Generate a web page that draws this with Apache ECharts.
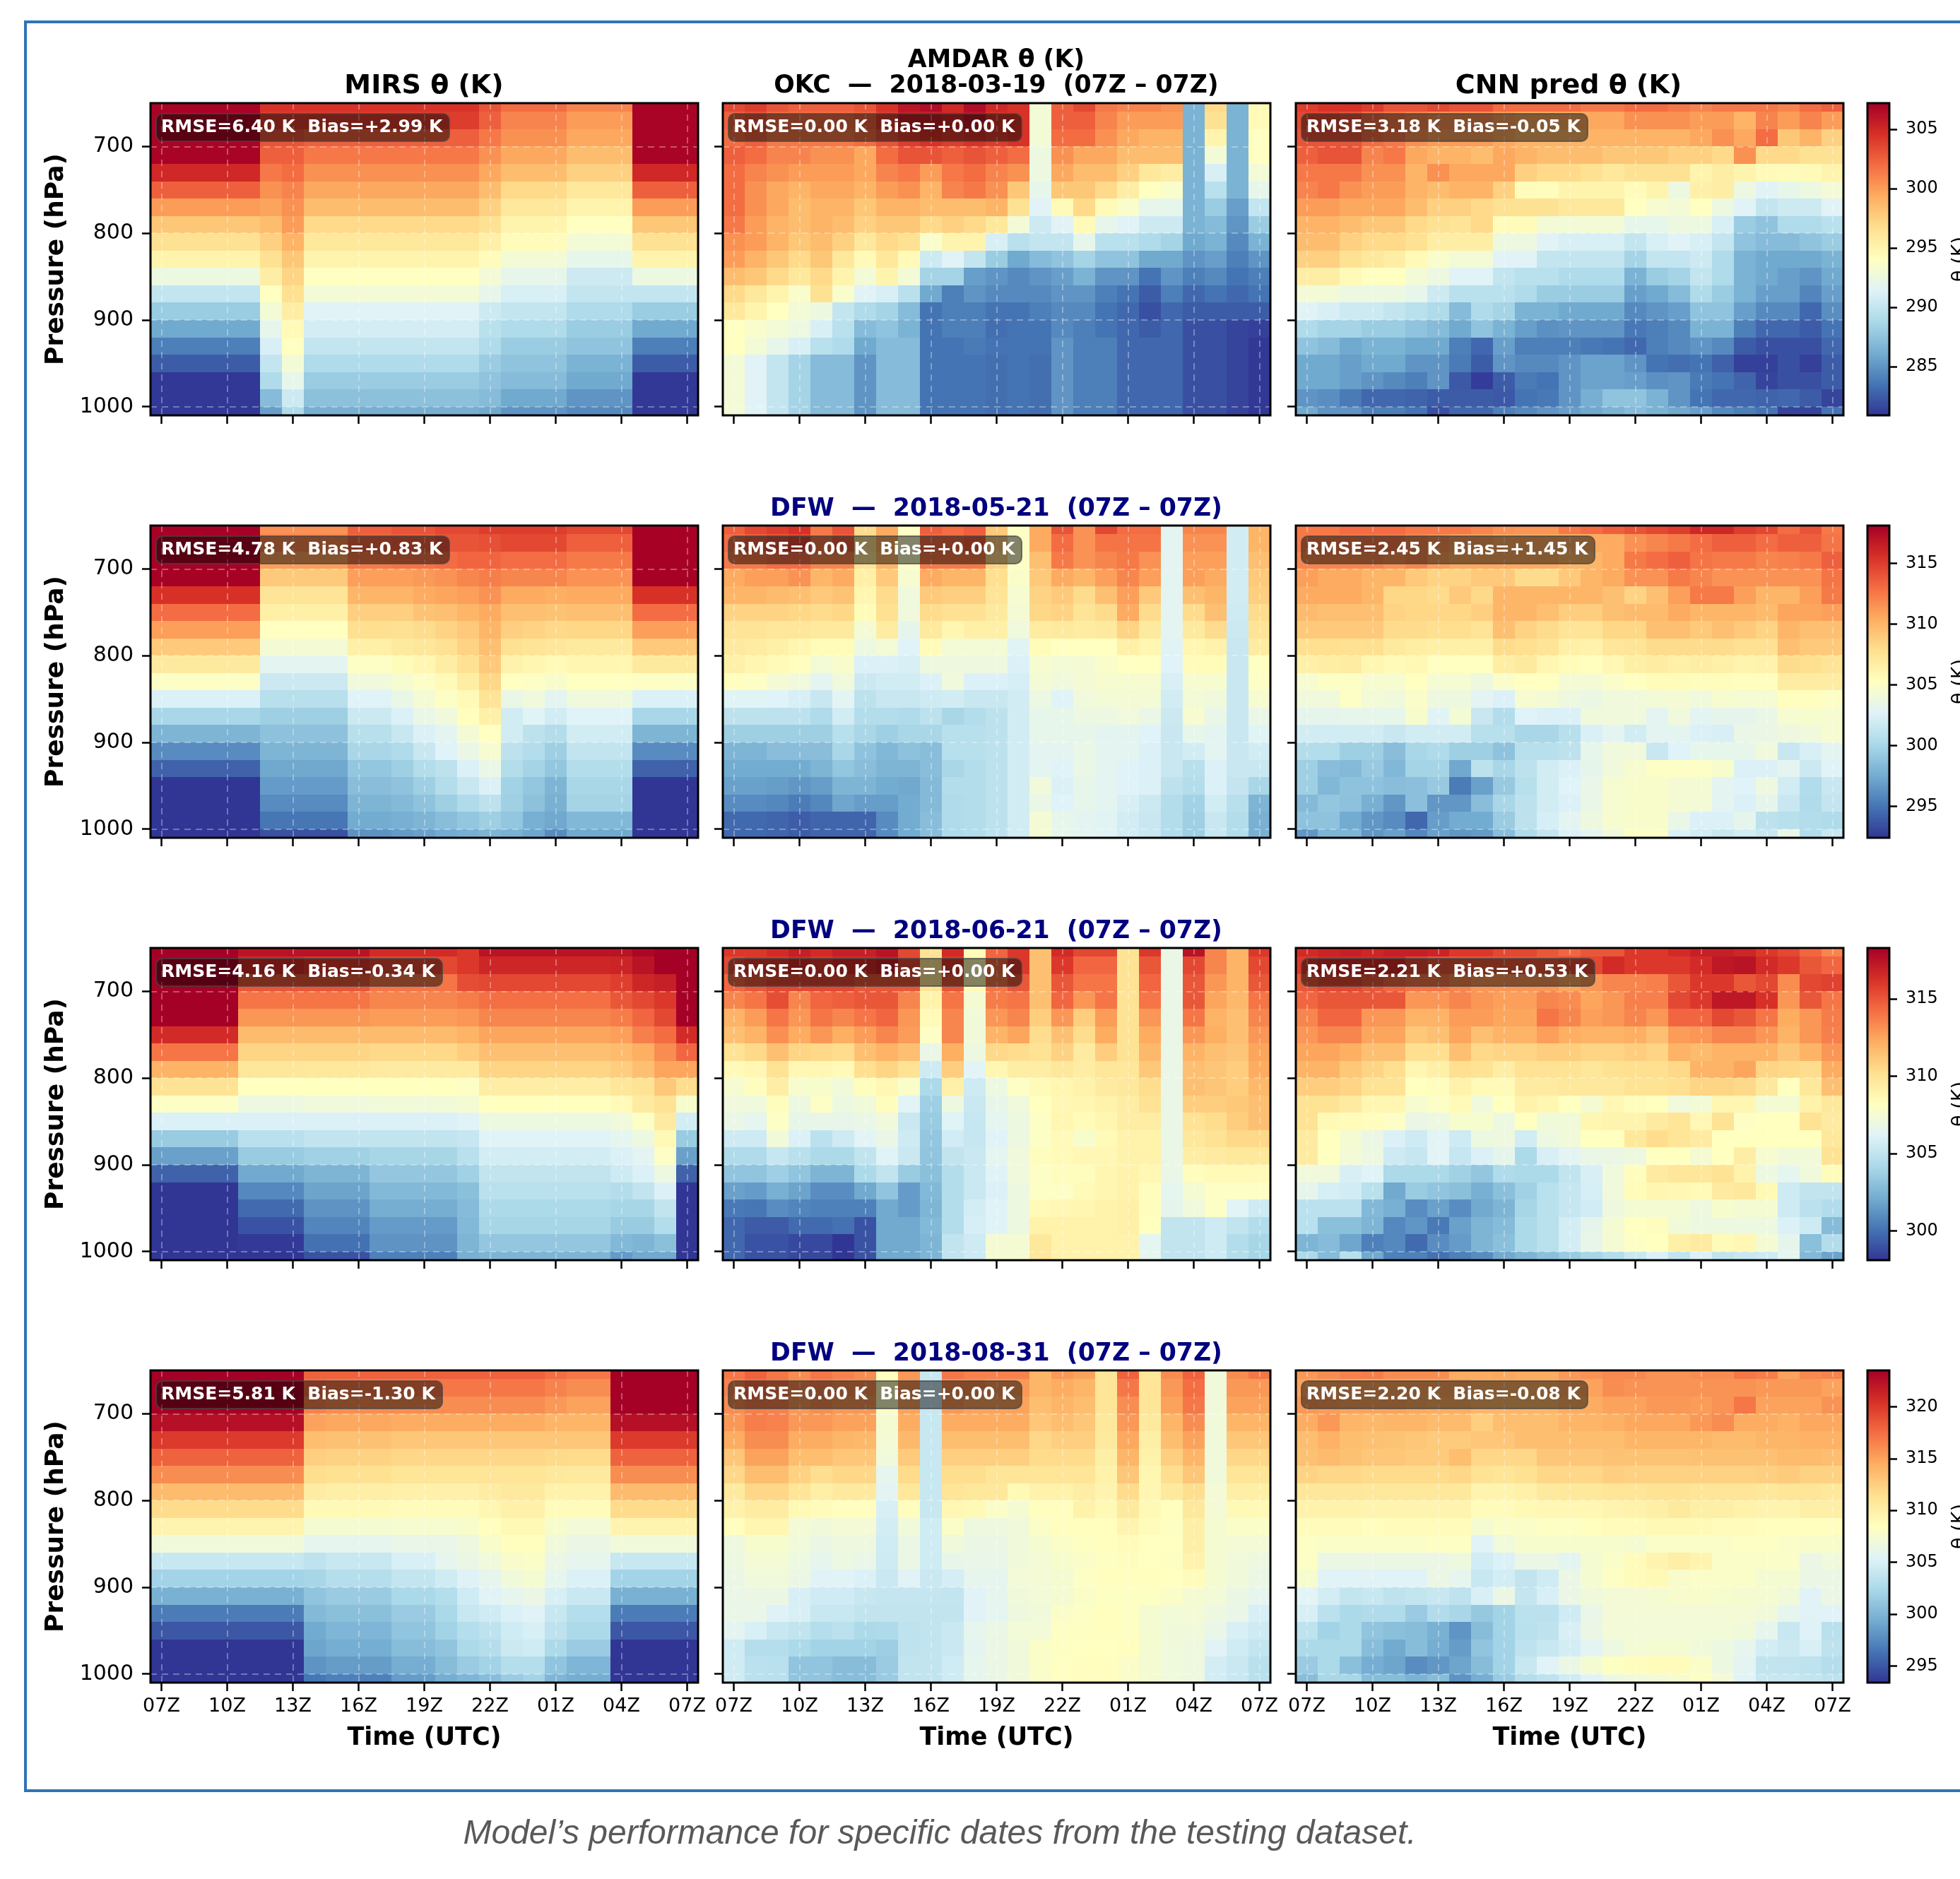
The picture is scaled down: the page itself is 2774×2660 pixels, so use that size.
<!DOCTYPE html>
<html><head><meta charset="utf-8">
<style>html,body{margin:0;padding:0;background:#fff}#c{width:2774px;height:2660px}</style>
<script src="https://cdn.jsdelivr.net/npm/echarts@6/dist/echarts.min.js"></script>
</head><body><div id="c"></div>
<script>
const levels=[650,670,690,710,730,750,770,790,810,830,850,870,890,910,930,950,970,990,1010];
const tickHours=[0,3,6,9,12,15,18,21,24];
const timeLabels=['07Z','10Z','13Z','16Z','19Z','22Z','01Z','04Z','07Z'];
const pressureTicks=[700,800,900,1000];
const cbarTicks=[[285,290,295,300,305],[295,300,305,310,315],[300,305,310,315],[295,300,305,310,315,320]];
const cbarRange=[[280.9,307.2],[292.4,318.1],[298.1,318.3],[293.4,323.5]];
const cmap=['#313695','#4575b4','#74add1','#abd9e9','#e0f3f8','#ffffbf','#fee090','#fdae61','#f46d43','#d73027','#a50026'];
const rowTitles=['OKC  —  2018-03-19  (07Z – 07Z)','DFW  —  2018-05-21  (07Z – 07Z)','DFW  —  2018-06-21  (07Z – 07Z)','DFW  —  2018-08-31  (07Z – 07Z)'];
const scores=[['RMSE=6.40 K  Bias=+2.99 K','RMSE=0.00 K  Bias=+0.00 K','RMSE=3.18 K  Bias=-0.05 K'],['RMSE=4.78 K  Bias=+0.83 K','RMSE=0.00 K  Bias=+0.00 K','RMSE=2.45 K  Bias=+1.45 K'],['RMSE=4.16 K  Bias=-0.34 K','RMSE=0.00 K  Bias=+0.00 K','RMSE=2.21 K  Bias=+0.53 K'],['RMSE=5.81 K  Bias=-1.30 K','RMSE=0.00 K  Bias=+0.00 K','RMSE=2.20 K  Bias=-0.08 K']];

// MIRS panels: runs of columns sharing one profile (span, then 19 levels)
const mirs1=[
[5,307,307,307,307,305,302.5,300,298,296.5,295,292.5,290,288,286,284,282.5,281,281,281],
[1,304.5,304,303,302.5,301.5,300.5,299.7,298.5,297.5,296.5,295.5,294,293,292,291,290,289,287,285.5],
[1,304.5,304,303,302.5,302,301,300.5,300,299,298,297.3,296.6,295.5,294.5,294,293,292,290.5,289],
[8,304.5,304,302.5,301.5,300.5,299.5,298.5,297,296,295,294,293,291.5,290.8,290,289,288,287.3,286.3],
[1,303,302.5,301.5,300.5,299.5,298.5,297.5,296.5,295.3,294.3,293,292,290.5,289.5,289,288,287.5,287,286],
[3,302,301,300.5,299.5,298.5,297,296,295,294.3,293,292,291,290,289,288,287.5,287,286,285],
[3,301,300,299.5,298.5,297.5,296,295,294,293,292,290.5,290,289,288,287.5,286.5,286,285,284.5],
[3,307,307,307,307,305,302.5,300,298,296.5,295,292.5,290,288,286,284,282.5,281,281,281]];
const mirs2=[
[5,318,318,318,318,315.5,313,311,309,307,305,302.5,300,298,296,294.2,292.4,292.4,292.4,292.4],
[4,311.5,312,311,309,307.5,306.5,305.2,304.3,303,301.7,300.7,299.5,298.7,298,297.3,296.7,296,295,293.5],
[2,313.5,313.3,312.5,311,310,308.7,307.8,306.5,305,304,302.7,301.7,300.7,300,299,298.5,298,297.5,296.3],
[1,314,313.5,312.7,311,310,308.7,307.7,307,305.5,304.5,303.5,302.5,301.5,300.3,299.5,298.8,298.3,297.7,296.7],
[1,314,313.5,312.7,311.2,310.5,309.3,308,307.3,306,305,304.3,303.5,302.5,301.5,300.5,299.5,298.8,298,297],
[1,314.5,314,313,311.5,310.7,309.5,308.5,307.7,306.7,305.7,305,304,303,302.7,301,300.5,299.5,298.5,297.5],
[1,314.5,314,313.3,312,311,310,309,308.5,307.7,306.7,305.7,305.3,304.3,303.5,302.5,301.5,300.3,299,297.7],
[1,315,314.2,313.3,312.3,311.5,310.5,310,309.5,309,308.3,307.5,306.5,305.2,304.5,303.5,302.5,301,299.5,298],
[1,315,314.5,313,312,310.5,309.5,308.7,307.7,306.3,305.2,303.5,302,302,301,300.5,299.7,299.6,299,297.8],
[1,315,314.5,313,312,310.5,309.5,308.5,307.5,306,305,304,302.8,301,300.5,299.8,299,298.7,297.7,297.2],
[1,315,314.5,313,312,310.3,309.3,308.2,307.3,305.7,304.7,303,302,300.5,299.5,299,298,297.8,297.3,296],
[3,314.5,313.5,312.5,311.5,310.5,309.5,308.3,307,306,305.2,304,302.7,302,301.2,300.5,300,299.8,298.2,297.4],
[3,318,318,318,318,315.5,313,311,309,307,305,302.5,300,298,296,294.2,292.4,292.4,292.4,292.4]];
const mirs3=[
[4,318.3,318.3,318.3,318.3,318.3,316.5,314,312,310,308,306,303.5,301.7,299.5,298,298,298,298,298],
[3,317.5,316.5,315,314,313,311.7,310.7,309.8,308.2,307,306,304.7,303.5,302,300.8,299.8,299,298.2,298],
[3,317.5,316,315,314,313,311.7,310.7,309.7,308.2,307.2,306,305,303.8,302.5,301.8,301.2,300.7,300,299],
[4,316.5,315.5,314,313.5,312.8,311.7,310.5,309.5,308.2,307.3,306,305,304,303.3,302.7,302.2,301.5,301.2,300.5],
[1,316,316,315.3,313.8,313,312,311,309.5,308,307.5,306.2,305.2,304.7,303.8,303,302.8,302.7,302.5,302.3],
[6,317.5,316.7,315.5,314.2,313.5,312.5,311.5,310.7,309.3,308.2,307,306.2,305.7,305,304.7,304.2,304,303.3,302.5],
[1,317.5,316.8,315.8,315,313.8,312.7,311.7,311,309.8,308.5,307.2,306.5,306,305.5,304.5,304,303.5,302.7,301.5],
[1,318,317.5,316.7,315.5,314.5,313.7,312.2,311.5,310,309.5,308,307,306.4,306,305,304,303.5,302.5,302],
[1,318.3,318.3,317,316,315.5,314.3,313.3,312.5,311.2,310,309.5,308.6,308,307,306,305,304.5,303,302],
[1,318.3,318.3,318.3,318.3,318.3,316.5,314.5,312.5,310.3,307.7,305.7,303.5,301.7,299.5,298,298,298,298,298]];
const mirs4=[
[7,323.5,323.5,323.5,322.5,320,318,316,313.7,311.7,309.5,307,304,302,299.7,296.8,295,293.4,293.4,293.4],
[1,318,317.5,316.5,315,313.5,312.5,311.5,310.3,309,307.5,306,303.5,302.2,301,300.3,299.3,299,298,296.5],
[3,318,317,316,314.7,313.3,312.3,311.3,310,309,307.5,306,304,303,301.5,300.7,300,299.5,298.5,297],
[2,318,317,316,314.5,313,312,311,309.8,308.7,307.6,306.3,305,303.8,302.4,301.5,301,300.5,299.5,298.5],
[1,318,317,316,314.5,313,312,311,309.8,308.7,307.6,306.3,306,304.5,303,302.4,302,301,300.5,299.5],
[1,318,317,316,314.5,313,312,311,309.8,308.7,307.8,306.8,306.5,305.3,304.5,304,303,302.5,301.5,300],
[1,318,317,316,314.5,313,312,311,310.3,309.3,308.5,307.8,307,306,305.5,304.5,303.5,303,302,300.5],
[1,318,317,316,314.5,313,312,311,310.5,309.8,309,308.5,307.8,307,306,305.2,304.5,304.3,303,301.5],
[1,318,317,316,314.5,313,312,311,310.5,309.8,309,308.5,308,307.5,306.5,305.5,305,304.5,303,302],
[1,317.5,316.5,315.5,314,313,311.8,310.7,309.7,308.8,307.7,307,306.5,306,305,304,303.5,302.5,301,300],
[2,317,316,315,314,313,311.7,310.5,309.7,308.7,307.2,306.5,306,305.2,304.2,303,302.5,301.5,300,299.5],
[4,323.5,323.5,323.5,322.5,320,318,316,313.7,311.7,309.5,307,304,302,299.7,296.8,295,293.4,293.4,293.4]];

const amdar1=[
[303.5,304,303,302.5,302.5,302.5,303,304.5,306,306.5,305,306.5,305,304.5,293,302.5,303.5,301.5,301,301,300.5,286.5,297,286.5,294.5],
[302.5,303,302,302,302,302,302.5,304,305.5,305.5,305,306,304.5,304.5,293,302.5,302.5,301,300,300,300,286.5,296.5,286.5,294.5],
[302,302.5,301.5,301.5,301.5,301.5,302,303,304,304.5,304,304.5,304,304.5,293,302,302,300.5,299.5,299,299,286.5,295,286.5,294],
[302.5,302,301,301,300.5,300.5,299.5,302,303,303,302.5,303,302.5,302,292.5,300.5,299.5,299.5,298.5,298.5,298.5,286.5,293,286.5,294],
[302,301,300.5,300,300,300,299.5,301,301.5,300,301.5,302,301,300.5,292.5,299.5,298.5,298.5,297.5,296,295.5,286.5,291,286.5,293],
[302,300.5,299.5,299,299.5,299.5,299,300,300.5,299,301,301.5,300.5,298,292,298,298,297,295.5,294,293.5,286.5,289.5,286.5,292],
[302,300.5,299.5,298.5,299,299,298,299,299,298.5,298.5,298.5,299,296.5,291.5,294.5,297,294.5,293.5,292,292,286.5,288,285.5,290],
[301.5,300,299,298.5,299,298.5,297.5,298,298,297,297.5,297,296,293,290.5,291.5,294.5,292,291.5,290.5,290.5,286.5,287,285,288],
[300.5,300,299,298,298.5,297.5,296,297,296.5,293.5,295,295,291,289.5,290,290,292,289.5,289.5,289,288.5,286,286.5,284.5,286.5],
[300,299,298,297,298,296,294.5,296,294.5,290.5,291.5,290,288,286,287,287.5,288.5,287.5,287.5,286,286,285,285.5,284,285],
[298.5,298,297,296,297,295,293,295,293,288.5,288.5,285.5,285,284.5,285,285.5,286.5,285,285,283.5,285,284,284.5,283.5,284],
[297,296,295,293.5,296.5,293.5,291.5,291,289.5,286,284,285,284.5,284.5,284.5,285,285,284,283.5,282.5,284,283,283.5,283,283.5],
[296,295,294,293,292.5,290,289,288.5,287,283.5,284,284,283.5,283.5,284,284.5,284.5,283.5,283,282,283,282.5,282.5,282.5,282.5],
[294,293.5,293,292.5,291,289.5,287,287.5,286.5,283.5,284,284,283.3,283.5,283.5,284.5,284,283.5,283,282.5,283,282,282,281.5,281.3],
[294,293,292,291,289.5,289,286,287,287,283.5,283.5,283.8,283.5,283.5,283.5,285,284,284,283,283,283,282,282,281.5,281],
[293,291.5,290,288.5,287,287,285,287,287,283.5,283.5,283.5,283.3,283.5,283.3,285,284,284,283,283,283,282,282,281.5,281],
[293,291.5,290,288.5,287,287,285,287,287,283.5,283.5,283.5,283.3,283.5,283.3,285,284,284,283,283,283,282,282,281.5,281],
[293,291.5,290,288.5,287,287,285,287,287,283.5,283.5,283.5,283.3,283.5,283.3,285,284,284,283,283,283,282,282,281.5,281],
[293,291.5,290,288.5,287,287,285,287,287,283.5,283.5,283.5,283.3,283.5,283.3,285,284,284,283,283,283,282,282,281.5,281]];
const cnn1=[
[304,304.5,304.5,304,303,303,303.5,303,303,302,302,302,302,301.5,301.5,302,302,301.5,301,301.5,301.5,301.5,301,302,302.5],
[303.5,303.5,303,302,301.5,301,300.5,300.5,300.5,300,299.5,299.5,299.5,299.5,299.5,300.5,300.5,300.5,300,300,299,301,300,301,300],
[303,303,303,302,301.5,300.5,300,300,300,299.5,299,299,299,299,299,299,299,299,299.5,300.5,299.5,302,298,299,297.5],
[302.5,303,303,301,301.5,299.5,299,299,298.5,299.5,299,298.5,298.5,298.5,298,298,298,297.5,297.5,297,300.5,297,297,296.5,296.5],
[301.5,301.5,301.5,300.5,300.5,299,300.5,299.5,299.5,299.5,297.5,297,297,296.5,296,296.5,296.5,296.5,295,295.5,295,294.5,294.3,294.5,295],
[301,301.5,300.5,300,300,299,298.5,299,299,297.5,294.3,294.2,295,295,295,294.3,295,292.5,295.3,295.5,292.5,291.5,292,292.5,293],
[300,300,299.5,299.5,299.5,298.5,297.5,297.5,297,296.5,296.5,296.5,296,296,296,294,293.3,293,294,292.5,291.5,290,290.5,290.5,291.5],
[299,299,298.5,298,298,297,296.5,296.3,297,294.3,294.3,293,293,293,293,292,292,292.5,292.5,291,288,287.5,289,289,289.5],
[298.5,298.5,297.5,297,297,296.5,295.5,295.5,295.5,292.5,292.5,291.5,291,291,291,290,291,291.5,291,290,287.5,287,287,287.5,288],
[297.5,297.5,296.5,296,295.5,294.5,293.5,293,293,291.5,291.5,290,290,290,290,288.5,290,290,290.5,289,286.5,286,286,286,286.5],
[295.5,295.5,294.5,294,294,293,292.5,291.5,291.5,290,289.5,289.5,289,289,289,286.5,288,288.5,290,289,286.5,286,285.5,285,286],
[293,293,292.5,292.5,292.5,292,290.5,289.5,289.5,289.5,289,288,288,288,288,285.5,286,287,289,288,286.5,285.5,285.5,284.3,285.5],
[291.5,291,290.5,290.5,290,289.5,289,287,289,288.5,286.5,286.5,286,286,286,284.5,285,285.5,287.5,287.5,285.5,284.5,284.5,283,284.7],
[289,288.5,288.5,288,288,287.5,287,286,287.5,286.5,285.5,284.8,285,285,285,283.7,284,284.5,286.5,286.5,284,283,283,282.5,283.5],
[287.5,287,286,286.5,286.5,286,286,284,283,285.5,284,284,284,283.7,283.5,283,284,284.5,285,284.5,282.5,282,282,282,283],
[286,286,285.5,286,286,285,285,283.8,282.5,285,284.5,284.5,285,285.7,285.7,285,283.5,283.3,283.5,282.7,281.3,281.3,282,281.3,282.5],
[286,286,285.5,285,284.5,284,285,282.3,281.2,282.5,283.8,283.5,285,285.7,285.7,285.5,284.8,285,283.8,283.5,282.8,281.5,282,282,282.5],
[285,284.7,283.8,283,283,282.8,282.5,282.5,282.5,282.3,283.5,283.7,285,286.3,287.5,287.5,286.5,285,283.5,283,283,282.8,283,282.5,281.5],
[286,285,285,284,284,283.5,282,283,283,284,284.5,285,285.5,286,286.5,287,286.5,286,285.5,284.5,284,283.5,281.5,281.5,283.5]];
const amdar2=[
[313.5,314.5,315,315.5,312.5,314,308,310.5,305,313.5,313,313.5,309,305,310.5,314,311.5,314.5,313,313,303,312,312,302,310],
[313,313.5,314,314.5,312.5,313.5,308,310.5,305,313,313,313.5,309,305,310.5,313,311.5,312.7,312.7,312.7,303,311.5,311.5,302,310],
[312.5,312.5,313,313,312,312,307.5,310,305,312.5,312.5,312.5,308.5,305,309.5,312.5,311.5,312,312.5,311.5,303,311,311,302,309.5],
[310.5,311,311,311.5,310,310.5,306.5,309,304.5,310.5,310,310,307.8,304.8,309,310.5,310,311,312,311,303,311,310.5,302,309],
[310,310,309.7,309.5,309,309.3,306,308,304,309,308.7,308.7,307.5,304.5,308.5,309,308,309.5,311,309,303,309.5,310,302,308.7],
[308.5,308.5,308.5,308.3,308,308.3,305.5,307.7,304,308,307.7,307.7,307,304.3,308.3,308.5,307.5,308,310.5,308,303,308,309.5,301.8,308],
[307.5,307.5,307.3,307.3,307,307,304.3,306.8,303.2,307,306,306.5,306.5,304,306.8,307,306.8,307,308.5,307,303,307,308,301.7,307.5],
[307,306.8,306.5,306,305.5,305.5,303.7,304.2,302.7,305.5,304.2,304.2,304.2,302.8,305.5,305.2,305.2,305.2,306.5,306,302.8,306,306.3,301.5,306.8],
[306.5,306,305.7,305.3,304.2,304.7,302.5,302.5,302.3,303.8,303.8,303.8,303.8,302.5,304.5,304.2,304.3,304.8,305.2,305.2,302.7,305.5,305.5,301.5,305.2],
[305.3,305,304.3,304,303,304,301.7,302,302,302.5,304,302.5,302.5,302.2,304.2,304,304.3,304.5,304.5,304.5,302.3,304.5,304.5,301.5,305],
[302.8,302.8,302.7,302.3,301.5,302.9,301,301.5,301.5,301.8,302,301.5,301.5,302,303.7,302.7,304,304.2,304.3,304.2,302,304.2,304,301.5,304.5],
[301,301,301,301,300.3,302,300.5,300.5,300.3,301,300,300.5,301,302,303.3,303.3,303.7,303.7,304,303.5,301.7,304.5,303.4,301.5,303.5],
[299.5,299.5,299.5,299.5,299.5,300.7,300,299.5,300,300,300.7,300.7,301,302,303.3,303.3,303.3,303,303,302.7,301.5,303.3,303,301.5,302.8],
[298,298,298.5,298.5,298.5,300,298.8,298.2,298.7,298.5,300.7,300.7,301,302,303,303,303.5,303,303,302.5,301.5,302,303,301.5,302],
[297.5,297.5,297.5,297.5,298,299,298.5,298,298,298.5,300,300.5,301,302,303,302.7,303.5,303,302.7,302.5,301.5,300.7,302.5,301.5,301.5],
[297,297,296.8,296.5,296.8,298,298,297.5,297.3,298.3,300.5,300.5,301,302,304,302.5,303.3,303,302.7,302.5,301,300.5,302.5,301.3,300],
[296,296,295.8,295.3,295.8,297.2,296.8,296.8,297.5,298.3,300.3,300.5,301,302,303.5,302.7,303.3,303,302.3,301.7,300.5,299.7,302,300.7,298],
[294.5,294.5,294.3,294,294.3,294.3,294.3,296,297.5,298.5,300.3,300.5,301,302,304.3,303.3,303,302.8,302,301.5,300.5,299.5,301.5,300.5,297.8],
[294.5,294.5,294.3,294,294.3,294.3,294.3,296,297.5,298.5,300.3,300.5,301,302,304.3,303.3,303,302.8,302,301.5,300.5,299.5,301.5,300.5,297.8]];
const cnn2=[
[312.5,312.5,313,313,313,312.5,312.5,312.5,312,311.5,311.3,311.3,312.5,313,313.5,314,314.5,315,316,316,315,314.5,313,314,312.5],
[312.5,312.5,312.5,312.5,312.5,312,311.5,311,311,310.5,310.5,310.5,310.5,310.5,310.5,311.5,312,312.5,313,313.5,313.5,313,313.5,313.5,312.7],
[312,312,312,312,311.5,312,311,310.5,310.5,310.5,310.5,310.5,310,310,310.5,312.5,313,313.5,312.7,312.5,312.5,312,312.2,312.5,313.5],
[311,310.5,310.5,310,310,309,308.5,308.5,309,309,308,308,309,310,310.5,311.5,311.5,312.5,312,311.5,311.5,311.5,311.5,311.5,312.7],
[310.5,310.5,310.5,310,308.3,308.3,308,309,308.2,310,310,310,310,310,309.5,308.5,309.5,311,312.5,312.5,311,310,310,311,312.5],
[309.7,309.5,309.5,309.5,308.5,308.3,308.3,308.3,308.7,310,310,309.5,308.8,308.8,309.5,309.7,309.7,310.5,310,310,310,309.7,310.7,310.7,311],
[309,309,309,309,308,308,307.8,307.8,307.5,309.5,308.5,308,307.5,307.5,308.3,308.3,309.5,309.5,309,309.5,309,308.5,310,309.5,309.5],
[307.8,307.8,307.7,307.8,307,306.7,306.5,306.5,306.5,308,307.8,307.5,306.5,306.3,307.3,307.5,308,308,308,308,307.7,307.7,309.5,309,309],
[306.5,306.7,306.8,306,305.7,305.8,305.2,305.2,305.2,306.7,307,306,305.5,305.3,305.9,306.6,306.8,306.5,306.7,306.5,306.2,306.3,308,307.8,307.5],
[304.5,305,305,304.5,304.5,305.2,304.4,304.4,303.8,304.8,305.2,305.2,304.3,304.3,304.8,305.2,305.5,305.5,305.4,305.4,305.3,305.3,306.8,306.8,306.8],
[304,304,305,304.2,304,304.8,303.8,303.8,302.9,302.5,304.5,304.3,303.8,303.6,304,304,304.2,304.3,304,304.5,304.4,304.4,305.3,305.3,305],
[303.2,303.2,303.3,303.3,303.3,304.6,302.8,304.2,301.5,300.5,302.7,302.5,302.5,304,304,304,303,304,302.9,303.2,303.2,303.5,304.5,304.6,304.5],
[302,302,302,302,301.5,302,302,302,300.7,300.7,300,300,300.7,302.4,303,302,303,303,302.5,302.3,303.5,303.6,303.8,304,304.5],
[300.5,300.5,299.5,299.5,298.5,300,300.3,299.5,299.5,298.8,300.7,300.7,301,303.3,304,304,301.5,302.7,303.3,303.3,303.3,304,301.5,302.3,303],
[299.5,298.5,298.3,299.2,298.2,299.8,299.8,297.3,301,300,301,302,302.5,303.2,304,304.5,305,305,305,304.6,302.5,302.5,303,301.7,302.7],
[299.5,298.2,298.8,298.8,298.5,298.6,299.2,295.3,297,299.2,300.7,302,302.7,303.4,304.5,304.7,304.7,304.3,304.3,303,302.7,303.8,302,300.4,301.5],
[298.3,299,298.7,297.7,296.5,298.6,296.5,296.5,298.5,300,301,302,302.5,303.5,304.5,304.7,304.7,304.3,304.2,303,302.5,303.2,301.5,300.3,301.3],
[298.8,298.8,297.5,296.5,296,294.4,296.8,297.5,297.5,299.3,301,302.2,303,303.8,304.5,304.7,304.7,303.5,302.5,302.5,303.2,301,300.7,300.5,300.3],
[296.5,298,298,296.5,297,295.8,297,296.5,296.7,298.5,300.3,301.3,302.5,303,304,305,305,302.5,302,301.5,302,301.5,303.5,300.5,301.5]];
const amdar3=[
[316,316,316.5,317,316.5,317,317,317.5,315.5,310,316.5,308.5,314.5,316,311.5,316.5,315.5,315.5,310,316,306.8,317.5,313.5,312,316],
[315.5,316,316,316.5,316,316.5,316.5,317,315.5,310,316,308.5,314.5,316,311.5,316,314.5,314.5,310,315,306.8,315.5,313.5,312,315.5],
[314.5,315,315.5,315.5,315.5,315.5,315,315,315,310,315,308.5,314,315,311.5,315,314,314,310,314.5,306.8,315,313,312,315],
[313.5,314,315.3,313.5,314.5,314.7,315,315,313.5,309,314,307.5,313.8,314,311.5,314.5,313,314,310,314,306.8,315,312.5,311.8,314],
[312,312.8,314,313,314,313.5,314,314.5,313,308.5,313.5,307.3,313,313.5,311,313,311,312.8,310,313,306.8,314,312,311.5,313.5],
[311.5,312,313.2,312.3,313,312.2,312.8,313.5,312.8,308,313.5,307.3,312,312.5,310.3,311.5,310.3,312.3,310,312.3,306.8,313,312.2,311.5,313],
[310,310.5,311.5,310.7,310.5,310.3,311.5,312,311.5,306.8,312.2,307,310.5,310.3,310,310.8,309.5,311,310,311.8,306.8,312,311.5,311.3,312.5],
[308.5,308.7,310,308.7,308.7,308.5,310.2,310.7,310,305.5,311,306.3,308.8,309.3,309.3,309.7,309.3,309.8,309.8,311.2,306.8,311.5,311.3,311,312.3],
[307.6,308.3,309.3,307.7,307.7,307.3,308.3,308.7,307.8,304.2,309.2,305.5,307,308,308.5,308.8,309,309.5,309.7,310.3,306.8,311.5,311.3,311,311.8],
[307.2,307.2,308.3,307,308,307,307.3,308.3,306.3,303.7,307,305.3,306.7,307.2,308.2,308.7,308.8,309,309.3,310,306.8,311,311,311.2,311.5],
[306.8,306.5,308,306.7,306.7,306.7,306.8,307.2,305.3,303.5,306.2,305.2,306.5,307,308,308.8,308.4,308.8,309.3,309.4,306.8,310,310.3,311,311.5],
[305.5,305.5,307.3,306,304.8,305.5,306.3,306.8,305.5,303.3,305.6,305.2,306.2,307,308,308.5,307.7,308.5,309,309,306.8,309.7,310,310.5,310.5],
[304.3,304.3,305.2,304.7,304.2,304.2,305,306.2,305.3,303.2,305,305.3,306.5,307.2,308.3,308.5,308.7,308.7,309,309,306.8,309.3,309.5,309.7,309.7],
[303.2,303.2,303.7,303.2,302.5,302.5,304.2,305,303.5,303,304.5,305.3,306.2,307.2,308,308.3,308.3,308.8,309,308.7,306.8,308.3,308.5,308.5,308.5],
[301.7,301.5,302.3,301.8,301,301,302,303.2,301.5,302.7,304.5,305.3,306,307,308,308,308.5,308.8,309,308.3,306.5,307.5,308,308,308],
[300.3,300.2,301,300.7,300.5,300.5,300.5,302,301.5,302.5,304.5,305.7,306.2,307,308.5,308.7,308.8,309,309.2,308.3,306.6,307.2,308,306.3,305.5],
[299.7,299.3,299.3,299.8,299.8,300,299,302,302,302.7,304.5,305.8,306.2,307,309,309,309,309,309.2,308.2,305,305,305.5,305,304.5],
[299.7,299,299,298.7,298.7,298,299,302,302,302.5,305,305.5,307.5,307.5,309.7,309,309,309,309,306.5,305,305,305.5,304.5,304],
[299.7,299,299,298.7,298.7,298,299,302,302,302.5,305,305.5,307.5,307.5,309.7,309,309,309,309,306.5,305,305,305.5,304.5,304]];
const cnn3=[
[316.5,316.8,317,316.7,317,317,316.8,316,316,315.5,315.5,315,314.5,315,315,316,316,316.5,317,317,316.7,316,315.5,314.5,313.5],
[316,316.5,316.5,316.5,316.5,315.5,315,315,315,315,315,315,315.3,315.5,316.5,316,316,316,316.5,317.3,317.5,316.5,316,315,314.5],
[315,315.5,315.5,315,314.5,314,314,313.5,313,313,313,313,312.5,313,313.5,313.5,313.7,315,316,316,315,315.5,313.3,315.5,315.7],
[314.5,315,315,315,315,313,313,313.5,313,312.7,312.7,313.5,313.3,312.5,313,313.7,313.7,315.5,316,317.3,317.3,316.3,313,315,314],
[313.5,314.5,314.5,313,313,312,312,312.8,312.8,312.5,312.5,314,313.5,312.7,313,313.5,313,314.5,314.5,315.5,315,314,312.3,313,313.8],
[313,313.5,313.5,312.5,312.5,311.2,311.5,312.5,311.5,312,312,312.7,312.2,312,312,312.2,311.5,312.8,313,313.5,313.5,313,312,313,313.7],
[312.5,312.5,312.2,311.5,311.5,310.2,310.2,311.5,310.5,310.7,310.7,311,311,310.7,310.7,311,310.7,312,311.7,312,312,312,311.3,312,313],
[312,312,311.2,310.7,310.2,308.8,309.2,310.2,310,309.3,310,310,310,309.8,310.1,310.2,310.2,310.5,312,312,312.5,310.7,310.5,310.3,312.3],
[311,311,310.7,310,310,308.2,308.3,309,308.5,308.5,309.5,309.5,309.7,309.7,309.7,310,310,310.2,310.7,310.7,310.5,309.7,308.2,309.7,311.5],
[310,310,309.5,308.8,308.8,307.6,308,308.5,307.2,308.2,309,308.8,308.2,307.5,308.7,308.3,308.2,307.2,307.4,308.8,308.8,307.5,307.5,309,309.7],
[310,308.6,308.4,308.3,308,306.9,307,307.7,307.7,307,308.2,307.3,307.3,308.8,308.9,308.9,309.5,309.9,308.7,310,308,308.2,308.2,310,309.5],
[309.5,308.2,307.5,306.9,306,305.5,306.3,305.5,307,307.1,305.6,307,307.3,308.2,308.2,309.7,310.3,309.9,309.5,308.2,308.2,308.2,308.2,308.2,309.7],
[309.5,308.2,307.4,307,305.5,305.2,306.3,305.2,306,306.6,304.2,305.9,306.4,306.8,306.9,307.1,308.2,308.2,307.5,308.2,309.3,307.6,307.3,307.3,310],
[307.2,307.2,305.9,306.2,304.2,304.2,304.2,303.8,303.3,304.3,304.2,304.2,305,305.9,307.2,308.3,309.5,309.8,309.8,310,309,307,306.5,307.2,308.4],
[306.6,305.8,305.6,304.7,302,303.5,303.2,303,302.3,303,303.8,304.7,305.2,305.8,307.2,308.4,308.8,308.7,308.5,309.5,309.7,308.6,305.5,305,305],
[304.8,304.8,304.8,302.7,302.3,301,301.7,301,302,302.5,304,304.7,305.2,305.6,307.1,307.5,307.5,307.5,307.1,307.7,307.5,307.5,305.5,304.8,304.4],
[304.7,303,303,302.5,300.8,301.3,300.3,301.7,302.5,302.8,304.2,304.7,305.7,306.6,307.5,308.2,308.3,307.3,307,307,307,307,306,305.5,302.8],
[302.5,302.8,301.9,300.5,300.8,299.8,301,301.5,302.5,303,304.2,304.7,305.7,306.7,307.5,308,308.2,309.2,309.5,308.5,308.7,307.5,306.6,303,304.5],
[304.2,302.8,304.6,302,300.5,300.5,300,300.5,301,302,302.5,303,303.5,304,304.5,305.3,306,305,306,305,305.3,305.5,306.5,302.7,301.8]];
const amdar4=[
[317,318,317,316,317,316.5,316,308.5,315.5,304,317,316.5,316.5,316.5,314,315.5,315,311,318,310.8,316,318,307,316,317],
[316.5,317.5,317,316,316.5,316,316,308.5,315.5,304,316,316,315.5,315.5,314,314.5,314,311,317,311,315.5,317.5,307,315.5,315.5],
[316,316.7,316.5,315.5,316,315.5,315.5,308,315,304,315.5,315,315,315,313.5,314,313.5,311,316,311,315,317,307,315,315],
[315.5,316.7,316.5,315.5,315.5,315,315,307.5,314.5,304,314.5,314.5,314.5,314.5,313,313.5,313,310.7,315.5,310.5,314,316,307,314,314],
[314.5,316,316,314.5,314.5,314,313.8,307.3,313.8,304,313.5,313.5,313.5,313.5,312,312.5,312.5,310.5,314.7,310,313.5,315,307,313,313],
[313,315,315,313.5,313.5,313,313,307,312.8,304,312.5,312.5,312.5,312.5,311.7,311.7,311.7,310,314,309.7,312.5,314,307,312,312],
[312,313.5,313.5,312.3,311.5,312,312,306,311.7,304,311.5,311.5,311,311,311,311,311,309.7,313,309.3,311.5,313,307,311,311],
[310.5,312,312,311,310,310.5,310.5,305.7,310.7,304,311,310.7,310.7,309,309.7,309.7,310.2,309.5,311.7,309.3,310.5,311.5,307.3,310,310],
[309.7,310.3,310.3,309,308.7,308.5,308.5,305,308.6,304,309.2,309,308,307.5,308.5,308.5,309.7,309,310.5,309,308.5,310.7,307.3,309,309],
[308.5,309.3,309.3,307.3,307,307.3,307.3,304.7,307,304.5,308,306.8,306.8,307,308,308.5,308.5,308.5,309.5,308.7,308.3,310,307.5,308,308],
[306.8,307.7,307.7,307,306.5,306.8,306.8,304.5,306.5,304.5,307,306.5,306.5,307,307.5,308,308.3,308.5,308.7,308.4,308.4,310,307.5,307.3,307.3],
[306.7,307.3,307.3,306.7,306,306.6,306.3,304.4,306.5,304.5,306.2,306.3,306.3,307,307.3,307.7,308,308.3,308.6,308.4,308.3,309.6,307.5,307,306.7],
[306.5,307,307,306.5,305.5,305.5,305.2,304.2,305.5,304.2,304.8,306,306,307.2,307.3,307.5,308.2,308.5,308.5,308.5,308.4,308.7,307.5,307,306.5],
[306.3,306.5,306.5,305,304.5,304.5,304,303.9,303.9,303.9,303.8,305.5,306,307,307.2,307.5,308,308.3,308.3,308.3,308,307.5,307.2,306.5,306],
[306.3,306.3,305.3,305,304,304,303.7,303.7,303.7,303.7,303.7,305.5,305.9,306.8,307,308,308.2,308.5,308.3,307.5,307.2,307.3,306.7,306.3,305],
[305.8,305,304,303.7,303,303.3,302.5,302.6,303.5,303.7,304.2,306,306.5,307.2,307.2,308.2,308.3,308.5,308.3,307.5,307,307,306.3,305,304.4],
[304.5,303,303,302.5,302,302,302,301.7,303.5,303.7,304.2,305.8,306.5,307,308,308.3,308.4,308.4,308.5,307.5,307,306.8,305.5,304.5,303.8],
[304.5,303.3,303.2,301,301,300.5,300.5,301.5,303.7,303.7,304.5,306,306.5,307,308,308.4,308.5,308.5,308,307.5,306.9,306.8,304.7,304.2,303.2],
[304.5,303.3,303.2,301,301,300.5,300.5,301.5,303.7,303.7,304.5,306,306.5,307,308,308.4,308.5,308.5,308,307.5,306.9,306.8,304.7,304.2,303.2]];
const cnn4=[
[315.5,316,316.5,316.7,316,316,316,314.5,314.5,314.7,314.5,314.5,315.5,315.7,316.2,316.2,315.7,315.7,316,316,317,316.7,315,316.2,316.5],
[315,315,315,315,315,315,315,315,314.5,314.5,314.5,314.5,315,315,316,315.7,315.7,315.7,315.7,315.7,315.7,315.5,315.5,315.5,315],
[315.5,315.3,315,315,315,314.7,314.5,314.5,314,314,314,314,314.5,314.5,315,315,315.5,315.5,315.3,315.7,317,315,315,315,315.7],
[314.5,315.5,314,313.8,314,314,313.7,313.7,312.5,313.5,313.5,313.5,314,314,314.3,314.7,314.7,314.7,315.5,316,314.5,314.5,314.2,314.7,314.7],
[313.5,314.2,313.5,313.3,313.2,313,312.7,312.7,313,313,313.5,313.5,313.5,313.5,313.5,314,314,314,314,313.7,313.7,314,314,314.2,314.2],
[313.3,313.7,313.3,313,313,312.7,312.7,313.5,312,312,312,313,313,313,313.2,313.2,313.2,313.2,313.3,313.3,313.3,313.3,313.7,313.7,313.5],
[312.2,312,312,311.7,311.7,311.7,311.7,312,311.2,311,311.3,312,312,312,312.5,312.3,312.3,312.3,312.3,312.3,312.3,312.5,312.7,312.3,312.3],
[310.8,310.8,310.8,310.7,310.7,310.7,310.7,310.7,309.5,309.5,309.8,310.5,310.7,310.7,311,311,311.2,311.2,311,311,311,310.7,311,311,310.7],
[309.7,309.7,309.7,309.5,309.5,309.5,309.5,309.5,308.7,308.7,309,309.2,309.2,309.2,309.5,309.7,310,310.5,310,310,309.7,309.5,309.5,310,310],
[308.7,308.7,308.7,308.5,308.7,308.7,308.7,308.7,307.5,308,308,308.2,308.2,308.5,308.7,308.7,309,309,309,308.7,308.8,308.5,308.5,308.5,308.5],
[308.2,308,308,308,308,308,308.2,308.2,305.5,307,307.7,307.7,307.7,307.7,307.7,307.5,308,308,308,308,308.2,308.2,308,307.8,307.8],
[308.2,306.5,306.5,306.5,306.5,306.5,306.5,306.8,304.6,305.2,306.5,306.5,305.8,307.5,308,308.7,309.5,310,309.5,308,308,308,308,306.5,307],
[307.7,305.5,305.5,305.5,305.5,305.5,306.5,306,304,304.7,303.7,304.5,306.5,307.5,308.2,308.8,309,307.8,308,308,308,307.5,307.5,306.5,306.5],
[305.6,304.7,303.8,304,303.5,303.8,304,303.5,305,306.5,303.9,305,306.5,307,307.3,307.3,307.5,307.7,307.8,307.7,307.5,307.5,307,305.5,306.5],
[305,303.3,302.5,302.7,302.7,301.5,302.8,302.3,301.3,302,303.3,303.3,304.5,306.3,307.3,307.3,307.3,307.3,307.3,307.3,307.3,307,306,305.5,305.5],
[303.5,302,302.5,301,300.7,300.5,299.7,298.1,300.5,302,303.2,303.5,305,306.5,307.2,307.2,307.2,307.2,307.2,307.2,307,306,304,305.3,303.2],
[302.5,302.5,302.5,300.5,299.3,300.5,299.5,298.5,301,302,303.5,304,304.7,305.7,306.7,307.3,307.5,307.5,307,306.7,306,304.7,304.3,305,303.5],
[301.5,302.5,300.7,299.5,299,297.7,298.2,299,300.5,302,304,305.5,306.5,307.5,308.3,308.6,308.7,308.7,308,306.7,305.7,303.7,303.7,303.5,303],
[300.5,302.3,302.3,300.5,300.5,299.8,300.5,298,299.5,301.5,303,303.5,304.5,305.5,306.7,307,307.2,307.7,308.3,307.3,305.5,304,304,303.8,303.5]];

// ---- layout ----
const lefts=[213,1023,1834], tops=[146,744,1342,1940], W=775, H=442, CBL=2643, CBW=31;
const mirsAll=[mirs1,mirs2,mirs3,mirs4], amdarAll=[amdar1,amdar2,amdar3,amdar4], cnnAll=[cnn1,cnn2,cnn3,cnn4];
function expand(blocks){ // runs of columns -> level rows
  const rows=levels.map(()=>[]);
  blocks.forEach(b=>{for(let n=0;n<b[0];n++) levels.forEach((_,k)=>rows[k].push(b[k+1]));});
  return rows;
}
const FONT='"DejaVu Sans"';
const grid=[],xAxis=[],yAxis=[],series=[],visualMap=[],title=[],graphic=[];
const gridLine={show:true,lineStyle:{color:'rgba(255,255,255,0.32)',width:2,type:[9,7]}};
function addTitle(text,cx,cy,size,color,weight,extra){
  title.push(Object.assign({text,left:cx,top:cy,textAlign:'center',textVerticalAlign:'middle',padding:0,z:20,
    textStyle:{fontFamily:FONT,fontSize:size,fontWeight:weight||'bold',color:color||'#000'}},extra||{}));
}
function heat(rows,r,c){
  const g=grid.length;
  grid.push({left:lefts[c],top:tops[r],width:W,height:H,containLabel:false,outerBoundsMode:'none'});
  xAxis.push({gridIndex:g,type:'value',min:-0.5,max:24.5,z:5,
    axisLine:{show:false,onZero:false},splitLine:gridLine,
    axisTick:{show:true,customValues:tickHours,length:12,lineStyle:{color:'#000',width:2.5}},
    axisLabel:{show:r===3,customValues:tickHours,margin:20,fontFamily:FONT,fontSize:27,color:'#000',
      hideOverlap:false,formatter:v=>timeLabels[tickHours.indexOf(v)]},
    name:r===3?'Time (UTC)':'',nameLocation:'middle',nameGap:61,nameMoveOverlap:false,
    nameTextStyle:{fontFamily:FONT,fontSize:35,fontWeight:'bold',color:'#000'}});
  yAxis.push({gridIndex:g,type:'value',inverse:true,min:650,max:1010,z:5,
    axisLine:{show:false,onZero:false},splitLine:gridLine,
    axisTick:{show:true,customValues:pressureTicks,length:12,lineStyle:{color:'#000',width:2.5}},
    axisLabel:{show:c===0,customValues:pressureTicks,margin:24,fontFamily:FONT,fontSize:30,color:'#000',formatter:v=>String(v)},
    name:c===0?'Pressure (hPa)':'',nameLocation:'middle',nameGap:115,nameMoveOverlap:false,
    nameTextStyle:{fontFamily:FONT,fontSize:36,fontWeight:'bold',color:'#000'}});
  const [lo,hi]=cbarRange[r], data=[];
  rows.forEach((row,k)=>row.forEach((v,i)=>data.push([i,levels[k],Math.min(hi,Math.max(lo,v))])));
  series.push({type:'custom',coordinateSystem:'cartesian2d',xAxisIndex:g,yAxisIndex:g,clip:true,silent:true,z:2,
    encode:{x:0,y:1},data,
    renderItem(params,api){
      const a=api.coord([api.value(0)-0.5,api.value(1)-10]), b=api.coord([api.value(0)+0.5,api.value(1)+10]);
      const x0=Math.round(a[0]),y0=Math.round(a[1]),x1=Math.round(b[0]),y1=Math.round(b[1]);
      return {type:'rect',shape:{x:x0,y:y0,width:x1-x0,height:y1-y0},style:{fill:api.visual('color')}};
    }});
  graphic.push({type:'rect',z:15,silent:true,shape:{x:lefts[c],y:tops[r],width:W,height:H},style:{fill:'none',stroke:'#000',lineWidth:3}});
  title.push({text:scores[r][c],left:lefts[c]+8,top:tops[r]+15,padding:[7,10,7,7],z:21,
    backgroundColor:'rgba(0,0,0,0.48)',borderColor:'rgba(70,70,70,0.7)',borderWidth:2,borderRadius:9,
    textStyle:{fontFamily:FONT,fontSize:25,fontWeight:'bold',color:'#fff',lineHeight:25}});
}
for(let r=0;r<4;r++){
  const start=series.length;
  heat(expand(mirsAll[r]),r,0);
  heat(amdarAll[r],r,1);
  heat(cnnAll[r],r,2);
  visualMap.push({show:false,type:'continuous',min:cbarRange[r][0],max:cbarRange[r][1],dimension:2,
    seriesIndex:[start,start+1,start+2],inRange:{color:cmap}});
  addTitle(rowTitles[r],1410,[122,721,1319,1917][r],34.7,r===0?'#000':'#000080');
}
for(let r=0;r<4;r++){
  const g=grid.length,[lo,hi]=cbarRange[r];
  grid.push({left:CBL,top:tops[r],width:CBW,height:H,outerBoundsMode:'none'});
  xAxis.push({gridIndex:g,type:'value',min:0,max:1,show:false,axisLine:{onZero:false}});
  yAxis.push({gridIndex:g,type:'value',position:'right',min:lo,max:hi,z:5,
    axisLine:{show:false,onZero:false},splitLine:{show:false},
    axisTick:{show:true,customValues:cbarTicks[r],length:11,lineStyle:{color:'#000',width:2.5}},
    axisLabel:{show:true,customValues:cbarTicks[r],margin:23,fontFamily:FONT,fontSize:24,color:'#000'},
    name:'θ (K)',nameLocation:'middle',nameGap:86,nameRotate:90,nameMoveOverlap:false,
    nameTextStyle:{fontFamily:FONT,fontSize:27,color:'#000'}});
  series.push({type:'custom',coordinateSystem:'cartesian2d',xAxisIndex:g,yAxisIndex:g,silent:true,z:2,
    data:[[0.5,(lo+hi)/2]],
    renderItem(params){
      const s=params.coordSys;
      return {type:'rect',shape:{x:s.x,y:s.y,width:s.width,height:s.height},
        style:{fill:new echarts.graphic.LinearGradient(0,1,0,0,cmap.map((color,i)=>({offset:i/(cmap.length-1),color})))}};
    }});
  graphic.push({type:'rect',z:15,silent:true,shape:{x:CBL,y:tops[r],width:CBW,height:H},style:{fill:'none',stroke:'#000',lineWidth:3}});
}
addTitle('MIRS θ (K)',600,122,38);
addTitle('AMDAR θ (K)',1410,86,34.7);
addTitle('CNN pred θ (K)',2220,122,38);
addTitle('Model’s performance for specific dates from the testing dataset.',1330,2597,48,'#595959','normal',
  {textStyle:{fontFamily:'"Liberation Sans"',fontSize:48,fontStyle:'italic',fontWeight:'normal',color:'#595959'}});
graphic.push({type:'rect',z:0,silent:true,shape:{x:36,y:31,width:2800,height:2504},style:{fill:'none',stroke:'#2e75b6',lineWidth:4}});

const chart=echarts.init(document.getElementById('c'),null,{renderer:'canvas'});
chart.setOption({animation:false,backgroundColor:'#fff',grid,xAxis,yAxis,series,visualMap,title,graphic});
</script></body></html>
